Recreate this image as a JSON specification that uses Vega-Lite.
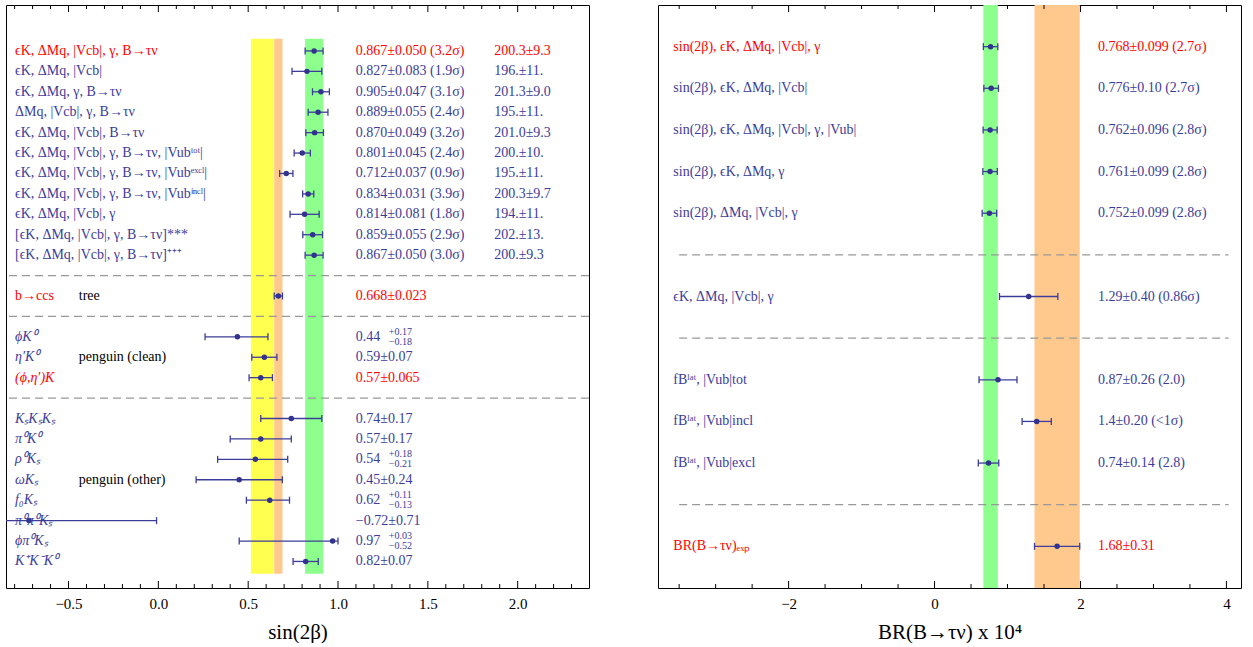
{
  "$schema": "https://vega.github.io/schema/vega-lite/v6.json",
  "padding": {"left": 4, "top": 4, "right": 0, "bottom": 0},
  "spacing": 66,
  "background": "white",
  "resolve": {"scale": {"fill": "independent", "color": "independent"}},
  "config": {
    "view": {"stroke": "black", "strokeWidth": 1},
    "font": "Liberation Serif",
    "axis": {"domain": false, "grid": false, "ticks": false, "labelFont": "Liberation Serif", "labelFontSize": 15, "labelColor": "black", "titleFont": "Liberation Serif", "titleFontSize": 21, "titleFontWeight": "normal", "titleColor": "black", "labelOverlap": false, "labelFlush": false},
    "text": {"font": "Liberation Serif", "fontSize": 14}
  },
  "datasets": {
    "left_rows": [
      {"row": 0, "label": "ϵK, ΔMq, |Vcb|, γ, B→τν", "fit": "main", "val": 0.867, "lo": 0.817, "hi": 0.917, "s2b": "0.867±0.050 (3.2σ)", "fB": "200.3±9.3"},
      {"row": 1, "label": "ϵK, ΔMq, |Vcb|", "fit": "other", "val": 0.827, "lo": 0.744, "hi": 0.910, "s2b": "0.827±0.083 (1.9σ)", "fB": "196.±11."},
      {"row": 2, "label": "ϵK, ΔMq, γ, B→τν", "fit": "other", "val": 0.905, "lo": 0.858, "hi": 0.952, "s2b": "0.905±0.047 (3.1σ)", "fB": "201.3±9.0"},
      {"row": 3, "label": "ΔMq, |Vcb|, γ, B→τν", "fit": "other", "val": 0.889, "lo": 0.834, "hi": 0.944, "s2b": "0.889±0.055 (2.4σ)", "fB": "195.±11."},
      {"row": 4, "label": "ϵK, ΔMq, |Vcb|, B→τν", "fit": "other", "val": 0.870, "lo": 0.821, "hi": 0.919, "s2b": "0.870±0.049 (3.2σ)", "fB": "201.0±9.3"},
      {"row": 5, "label": "ϵK, ΔMq, |Vcb|, γ, B→τν, |Vubᵗᵒᵗ|", "fit": "other", "val": 0.801, "lo": 0.756, "hi": 0.846, "s2b": "0.801±0.045 (2.4σ)", "fB": "200.±10."},
      {"row": 6, "label": "ϵK, ΔMq, |Vcb|, γ, B→τν, |Vubᵉˣᶜˡ|", "fit": "other", "val": 0.712, "lo": 0.675, "hi": 0.749, "s2b": "0.712±0.037 (0.9σ)", "fB": "195.±11."},
      {"row": 7, "label": "ϵK, ΔMq, |Vcb|, γ, B→τν, |Vubⁱⁿᶜˡ|", "fit": "other", "val": 0.834, "lo": 0.803, "hi": 0.865, "s2b": "0.834±0.031 (3.9σ)", "fB": "200.3±9.7"},
      {"row": 8, "label": "ϵK, ΔMq, |Vcb|, γ", "fit": "other", "val": 0.814, "lo": 0.733, "hi": 0.895, "s2b": "0.814±0.081 (1.8σ)", "fB": "194.±11."},
      {"row": 9, "label": "[ϵK, ΔMq, |Vcb|, γ, B→τν]***", "fit": "other", "val": 0.859, "lo": 0.804, "hi": 0.914, "s2b": "0.859±0.055 (2.9σ)", "fB": "202.±13."},
      {"row": 10, "label": "[ϵK, ΔMq, |Vcb|, γ, B→τν]⁺⁺⁺", "fit": "other", "val": 0.867, "lo": 0.817, "hi": 0.917, "s2b": "0.867±0.050 (3.0σ)", "fB": "200.±9.3"},
      {"row": 12, "label": "b→ccs", "fit": "main", "val": 0.668, "lo": 0.645, "hi": 0.691, "s2b": "0.668±0.023", "note": "tree"},
      {"row": 14, "label": "ϕK⁰", "fit": "other", "val": 0.44, "lo": 0.26, "hi": 0.61, "s2b": "0.44", "up": "+0.17", "dn": "−0.18"},
      {"row": 15, "label": "η′K⁰", "fit": "other", "val": 0.59, "lo": 0.52, "hi": 0.66, "s2b": "0.59±0.07", "note": "penguin (clean)"},
      {"row": 16, "label": "(ϕ,η′)K", "fit": "main", "val": 0.57, "lo": 0.505, "hi": 0.635, "s2b": "0.57±0.065"},
      {"row": 18, "label": "KₛKₛKₛ", "fit": "other", "val": 0.74, "lo": 0.57, "hi": 0.91, "s2b": "0.74±0.17"},
      {"row": 19, "label": "π⁰K⁰", "fit": "other", "val": 0.57, "lo": 0.40, "hi": 0.74, "s2b": "0.57±0.17"},
      {"row": 20, "label": "ρ⁰Kₛ", "fit": "other", "val": 0.54, "lo": 0.33, "hi": 0.72, "s2b": "0.54", "up": "+0.18", "dn": "−0.21"},
      {"row": 21, "label": "ωKₛ", "fit": "other", "val": 0.45, "lo": 0.21, "hi": 0.69, "s2b": "0.45±0.24", "note": "penguin (other)"},
      {"row": 22, "label": "f₀Kₛ", "fit": "other", "val": 0.62, "lo": 0.49, "hi": 0.73, "s2b": "0.62", "up": "+0.11", "dn": "−0.13"},
      {"row": 23, "label": "π⁰π⁰Kₛ", "fit": "other", "val": -0.72, "lo": -1.43, "hi": -0.01, "s2b": "−0.72±0.71"},
      {"row": 24, "label": "ϕπ⁰Kₛ", "fit": "other", "val": 0.97, "lo": 0.45, "hi": 1.00, "s2b": "0.97", "up": "+0.03", "dn": "−0.52"},
      {"row": 25, "label": "K⁺K⁻K⁰", "fit": "other", "val": 0.82, "lo": 0.75, "hi": 0.89, "s2b": "0.82±0.07"}
    ],
    "left_bands": [
      {"band": "penguin", "lo": 0.515, "hi": 0.645},
      {"band": "tree", "lo": 0.645, "hi": 0.691},
      {"band": "fit", "lo": 0.817, "hi": 0.917}
    ],
    "left_sep": [{"row": 11}, {"row": 13}, {"row": 17}],
    "left_ticks": [{"v": -0.8}, {"v": -0.7}, {"v": -0.6}, {"v": -0.5}, {"v": -0.4}, {"v": -0.3}, {"v": -0.2}, {"v": -0.1}, {"v": 0}, {"v": 0.1}, {"v": 0.2}, {"v": 0.3}, {"v": 0.4}, {"v": 0.5}, {"v": 0.6}, {"v": 0.7}, {"v": 0.8}, {"v": 0.9}, {"v": 1}, {"v": 1.1}, {"v": 1.2}, {"v": 1.3}, {"v": 1.4}, {"v": 1.5}, {"v": 1.6}, {"v": 1.7}, {"v": 1.8}, {"v": 1.9}, {"v": 2}, {"v": 2.1}, {"v": 2.2}, {"v": 2.3}],
    "right_rows": [
      {"row": 0, "label": "sin(2β), ϵK, ΔMq, |Vcb|, γ", "fit": "main", "val": 0.768, "lo": 0.669, "hi": 0.867, "br": "0.768±0.099 (2.7σ)"},
      {"row": 1, "label": "sin(2β), ϵK, ΔMq, |Vcb|", "fit": "other", "val": 0.776, "lo": 0.676, "hi": 0.876, "br": "0.776±0.10 (2.7σ)"},
      {"row": 2, "label": "sin(2β), ϵK, ΔMq, |Vcb|, γ, |Vub|", "fit": "other", "val": 0.762, "lo": 0.666, "hi": 0.858, "br": "0.762±0.096 (2.8σ)"},
      {"row": 3, "label": "sin(2β), ϵK, ΔMq, γ", "fit": "other", "val": 0.761, "lo": 0.662, "hi": 0.860, "br": "0.761±0.099 (2.8σ)"},
      {"row": 4, "label": "sin(2β), ΔMq, |Vcb|, γ", "fit": "other", "val": 0.752, "lo": 0.653, "hi": 0.851, "br": "0.752±0.099 (2.8σ)"},
      {"row": 6, "label": "ϵK, ΔMq, |Vcb|, γ", "fit": "other", "val": 1.29, "lo": 0.89, "hi": 1.69, "br": "1.29±0.40 (0.86σ)"},
      {"row": 8, "label": "fBˡᵃᵗ, |Vub|tot", "fit": "other", "val": 0.87, "lo": 0.61, "hi": 1.13, "br": "0.87±0.26 (2.0)"},
      {"row": 9, "label": "fBˡᵃᵗ, |Vub|incl", "fit": "other", "val": 1.4, "lo": 1.2, "hi": 1.6, "br": "1.4±0.20 (<1σ)"},
      {"row": 10, "label": "fBˡᵃᵗ, |Vub|excl", "fit": "other", "val": 0.74, "lo": 0.60, "hi": 0.88, "br": "0.74±0.14 (2.8)"},
      {"row": 12, "label": "BR(B→τν)ₑₓₚ", "fit": "main", "val": 1.68, "lo": 1.37, "hi": 1.99, "br": "1.68±0.31"}
    ],
    "right_bands": [
      {"band": "fit", "lo": 0.669, "hi": 0.867},
      {"band": "exp", "lo": 1.37, "hi": 1.99}
    ],
    "right_sep": [{"row": 5}, {"row": 7}, {"row": 11}],
    "right_ticks": [{"v": -3.5}, {"v": -3}, {"v": -2.5}, {"v": -2}, {"v": -1.5}, {"v": -1}, {"v": -0.5}, {"v": 0}, {"v": 0.5}, {"v": 1}, {"v": 1.5}, {"v": 2}, {"v": 2.5}, {"v": 3}, {"v": 3.5}, {"v": 4}]
  },
  "hconcat": [
    {
      "width": 583,
      "height": 583,
      "layer": [
        {
          "data": {"name": "left_bands"},
          "mark": {"type": "rect"},
          "encoding": {
            "x": {"field": "lo", "type": "quantitative",
              "scale": {"domain": [-0.848, 2.397], "nice": false, "zero": false},
              "axis": {"orient": "bottom", "title": "sin(2β)", "titlePadding": 10, "labelPadding": 8, "values": [-0.5, 0, 0.5, 1, 1.5, 2], "format": ".1f"}},
            "x2": {"field": "hi"},
            "y": {"datum": -0.6, "type": "quantitative", "scale": {"domain": [-2.25, 26.3], "reverse": true, "nice": false, "zero": false}, "axis": null},
            "y2": {"datum": 25.6},
            "fill": {"field": "band", "type": "nominal", "scale": {"domain": ["penguin", "tree", "fit"], "range": ["#ffff50", "#ffc88c", "#8cff8c"]}, "legend": null}
          }
        },
        {
          "data": {"name": "left_sep"},
          "mark": {"type": "rule", "strokeDash": [8, 5], "color": "#999999", "strokeWidth": 1.2},
          "encoding": {"y": {"field": "row", "type": "quantitative"}}
        },
        {
          "data": {"name": "left_ticks"},
          "transform": [{"filter": "abs(datum.v*2 - round(datum.v*2)) < 0.001"}],
          "mark": {"type": "rule", "color": "black", "strokeWidth": 1},
          "encoding": {"x": {"field": "v", "type": "quantitative"}, "y": {"datum": 26.3}, "y2": {"datum": 25.957}}
        },
        {
          "data": {"name": "left_ticks"},
          "transform": [{"filter": "abs(datum.v*2 - round(datum.v*2)) < 0.001"}],
          "mark": {"type": "rule", "color": "black", "strokeWidth": 1},
          "encoding": {"x": {"field": "v", "type": "quantitative"}, "y": {"datum": -2.25}, "y2": {"datum": -1.907}}
        },
        {
          "data": {"name": "left_ticks"},
          "transform": [{"filter": "abs(datum.v*2 - round(datum.v*2)) >= 0.001"}],
          "mark": {"type": "rule", "color": "black", "strokeWidth": 1},
          "encoding": {"x": {"field": "v", "type": "quantitative"}, "y": {"datum": 26.3}, "y2": {"datum": 26.104}}
        },
        {
          "data": {"name": "left_ticks"},
          "transform": [{"filter": "abs(datum.v*2 - round(datum.v*2)) >= 0.001"}],
          "mark": {"type": "rule", "color": "black", "strokeWidth": 1},
          "encoding": {"x": {"field": "v", "type": "quantitative"}, "y": {"datum": -2.25}, "y2": {"datum": -2.054}}
        },
        {
          "data": {"name": "left_rows"},
          "mark": {"type": "rule", "color": "#3c3c99", "strokeWidth": 1.3, "clip": true},
          "encoding": {"x": {"field": "lo", "type": "quantitative"}, "x2": {"field": "hi"}, "y": {"field": "row", "type": "quantitative"}}
        },
        {
          "data": {"name": "left_rows"},
          "mark": {"type": "tick", "orient": "vertical", "size": 7, "thickness": 1.3, "color": "#3c3c99", "clip": true, "opacity": 1},
          "encoding": {"x": {"field": "lo", "type": "quantitative"}, "y": {"field": "row", "type": "quantitative"}}
        },
        {
          "data": {"name": "left_rows"},
          "mark": {"type": "tick", "orient": "vertical", "size": 7, "thickness": 1.3, "color": "#3c3c99", "clip": true, "opacity": 1},
          "encoding": {"x": {"field": "hi", "type": "quantitative"}, "y": {"field": "row", "type": "quantitative"}}
        },
        {
          "data": {"name": "left_rows"},
          "mark": {"type": "circle", "size": 30, "color": "#33338f", "opacity": 1},
          "encoding": {"x": {"field": "val", "type": "quantitative"}, "y": {"field": "row", "type": "quantitative"}}
        },
        {
          "data": {"name": "left_rows"},
          "transform": [{"filter": "datum.row < 14"}],
          "mark": {"type": "text", "align": "left", "baseline": "middle"},
          "encoding": {
            "x": {"datum": -0.798}, "y": {"field": "row", "type": "quantitative"},
            "text": {"field": "label"},
            "color": {"field": "fit", "type": "nominal", "scale": {"domain": ["main", "other"], "range": ["#ff0000", "#3c3c99"]}, "legend": null}
          }
        },
        {
          "data": {"name": "left_rows"},
          "transform": [{"filter": "datum.row >= 14"}],
          "mark": {"type": "text", "align": "left", "baseline": "middle", "fontStyle": "italic"},
          "encoding": {
            "x": {"datum": -0.798}, "y": {"field": "row", "type": "quantitative"},
            "text": {"field": "label"},
            "color": {"field": "fit", "type": "nominal", "legend": null}
          }
        },
        {
          "data": {"name": "left_rows"},
          "transform": [{"filter": "datum.note != null"}],
          "mark": {"type": "text", "align": "left", "baseline": "middle", "color": "black"},
          "encoding": {"x": {"datum": -0.443}, "y": {"field": "row", "type": "quantitative"}, "text": {"field": "note"}}
        },
        {
          "data": {"name": "left_rows"},
          "mark": {"type": "text", "align": "left", "baseline": "middle"},
          "encoding": {
            "x": {"datum": 1.099}, "y": {"field": "row", "type": "quantitative"},
            "text": {"field": "s2b"},
            "color": {"field": "fit", "type": "nominal", "legend": null}
          }
        },
        {
          "data": {"name": "left_rows"},
          "transform": [{"filter": "datum.fB != null"}],
          "mark": {"type": "text", "align": "left", "baseline": "middle"},
          "encoding": {
            "x": {"datum": 1.869}, "y": {"field": "row", "type": "quantitative"},
            "text": {"field": "fB"},
            "color": {"field": "fit", "type": "nominal", "legend": null}
          }
        },
        {
          "data": {"name": "left_rows"},
          "transform": [{"filter": "datum.up != null"}],
          "mark": {"type": "text", "align": "left", "baseline": "middle", "fontSize": 10, "dy": -5, "color": "#3c3c99"},
          "encoding": {"x": {"datum": 1.283}, "y": {"field": "row", "type": "quantitative"}, "text": {"field": "up"}}
        },
        {
          "data": {"name": "left_rows"},
          "transform": [{"filter": "datum.dn != null"}],
          "mark": {"type": "text", "align": "left", "baseline": "middle", "fontSize": 10, "dy": 5, "color": "#3c3c99"},
          "encoding": {"x": {"datum": 1.283}, "y": {"field": "row", "type": "quantitative"}, "text": {"field": "dn"}}
        },
        {
          "mark": {"type": "text", "align": "center", "baseline": "middle", "color": "black"},
          "encoding": {"x": {"datum": 1.429}, "y": {"datum": -1.22}, "text": {"value": "sin(2β)"}}
        },
        {
          "mark": {"type": "text", "align": "center", "baseline": "middle", "color": "black"},
          "encoding": {"x": {"datum": 2.053}, "y": {"datum": -1.22}, "text": {"value": "fB(MeV)"}}
        }
      ]
    },
    {
      "width": 583,
      "height": 583,
      "layer": [
        {
          "data": {"name": "right_bands"},
          "mark": {"type": "rect"},
          "encoding": {
            "x": {"field": "lo", "type": "quantitative",
              "scale": {"domain": [-3.79, 4.2], "nice": false, "zero": false},
              "axis": {"orient": "bottom", "title": "BR(B→τν) x 10⁴", "titlePadding": 10, "labelPadding": 8, "values": [-2, 0, 2, 4], "format": "d"}},
            "x2": {"field": "hi"},
            "fill": {"field": "band", "type": "nominal", "scale": {"domain": ["fit", "exp"], "range": ["#8cff8c", "#ffc88c"]}, "legend": null}
          }
        },
        {
          "data": {"name": "right_sep"},
          "mark": {"type": "rule", "strokeDash": [8, 5], "color": "#999999", "strokeWidth": 1.2},
          "encoding": {
            "x": {"datum": -3.5, "type": "quantitative"}, "x2": {"datum": 4.03},
            "y": {"field": "row", "type": "quantitative", "scale": {"domain": [-1, 13], "reverse": true, "nice": false, "zero": false}, "axis": null}
          }
        },
        {
          "data": {"name": "right_ticks"},
          "transform": [{"filter": "abs(datum.v/2 - round(datum.v/2)) < 0.001"}],
          "mark": {"type": "rule", "color": "black", "strokeWidth": 1},
          "encoding": {"x": {"field": "v", "type": "quantitative"}, "y": {"datum": 13}, "y2": {"datum": 12.832}}
        },
        {
          "data": {"name": "right_ticks"},
          "transform": [{"filter": "abs(datum.v/2 - round(datum.v/2)) < 0.001"}],
          "mark": {"type": "rule", "color": "black", "strokeWidth": 1},
          "encoding": {"x": {"field": "v", "type": "quantitative"}, "y": {"datum": -1}, "y2": {"datum": -0.832}}
        },
        {
          "data": {"name": "right_ticks"},
          "transform": [{"filter": "abs(datum.v/2 - round(datum.v/2)) >= 0.001"}],
          "mark": {"type": "rule", "color": "black", "strokeWidth": 1},
          "encoding": {"x": {"field": "v", "type": "quantitative"}, "y": {"datum": 13}, "y2": {"datum": 12.904}}
        },
        {
          "data": {"name": "right_ticks"},
          "transform": [{"filter": "abs(datum.v/2 - round(datum.v/2)) >= 0.001"}],
          "mark": {"type": "rule", "color": "black", "strokeWidth": 1},
          "encoding": {"x": {"field": "v", "type": "quantitative"}, "y": {"datum": -1}, "y2": {"datum": -0.904}}
        },
        {
          "data": {"name": "right_rows"},
          "mark": {"type": "rule", "color": "#3c3c99", "strokeWidth": 1.3, "clip": true},
          "encoding": {"x": {"field": "lo", "type": "quantitative"}, "x2": {"field": "hi"}, "y": {"field": "row", "type": "quantitative"}}
        },
        {
          "data": {"name": "right_rows"},
          "mark": {"type": "tick", "orient": "vertical", "size": 7, "thickness": 1.3, "color": "#3c3c99", "opacity": 1},
          "encoding": {"x": {"field": "lo", "type": "quantitative"}, "y": {"field": "row", "type": "quantitative"}}
        },
        {
          "data": {"name": "right_rows"},
          "mark": {"type": "tick", "orient": "vertical", "size": 7, "thickness": 1.3, "color": "#3c3c99", "opacity": 1},
          "encoding": {"x": {"field": "hi", "type": "quantitative"}, "y": {"field": "row", "type": "quantitative"}}
        },
        {
          "data": {"name": "right_rows"},
          "mark": {"type": "circle", "size": 30, "color": "#33338f", "opacity": 1},
          "encoding": {"x": {"field": "val", "type": "quantitative"}, "y": {"field": "row", "type": "quantitative"}}
        },
        {
          "data": {"name": "right_rows"},
          "mark": {"type": "text", "align": "left", "baseline": "middle"},
          "encoding": {
            "x": {"datum": -3.58}, "y": {"field": "row", "type": "quantitative"},
            "text": {"field": "label"},
            "color": {"field": "fit", "type": "nominal", "scale": {"domain": ["main", "other"], "range": ["#ff0000", "#3c3c99"]}, "legend": null}
          }
        },
        {
          "data": {"name": "right_rows"},
          "mark": {"type": "text", "align": "left", "baseline": "middle"},
          "encoding": {
            "x": {"datum": 2.24}, "y": {"field": "row", "type": "quantitative"},
            "text": {"field": "br"},
            "color": {"field": "fit", "type": "nominal", "legend": null}
          }
        }
      ]
    }
  ]
}
